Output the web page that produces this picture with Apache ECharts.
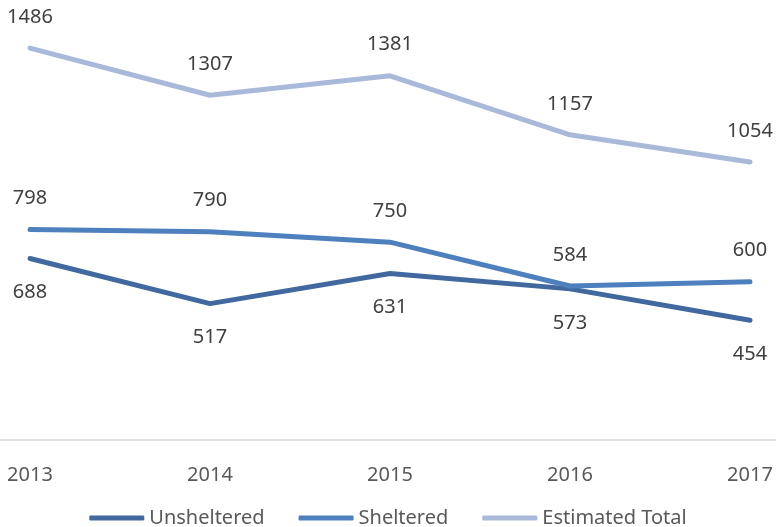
<!DOCTYPE html>
<html lang="en">
<head>
    <meta charset="UTF-8">
    <title>Homeless count 2013-2017</title>
    <script src="https://cdn.jsdelivr.net/npm/echarts@6/dist/echarts.min.js"></script>
    <style>
        body { margin: 0; background: #fff; }
        #chart { width: 776px; height: 527px; }
    </style>
</head>
<body>
    <div id="chart"></div>
    <script>
        // data
        var years = ['2013', '2014', '2015', '2016', '2017'];
        var unsheltered = [688, 517, 631, 573, 454];
        var sheltered = [798, 790, 750, 584, 600];
        var estimatedTotal = [1486, 1307, 1381, 1157, 1054];

        var font = '"Noto Sans", "Liberation Sans", sans-serif';

        function lineSeries(name, data, color, labelPos, dist) {
            return {
                name: name,
                type: 'line',
                data: data,
                symbol: 'circle',
                symbolSize: 0,
                showSymbol: true,
                itemStyle: { color: color },
                lineStyle: { color: color, width: 5, cap: 'round', join: 'round' },
                label: {
                    show: true,
                    position: labelPos,
                    distance: dist,
                    color: '#404040',
                    fontSize: 20,
                    fontFamily: font
                },
                emphasis: { disabled: true }
            };
        }

        var myChart = echarts.init(document.getElementById('chart'));
        var option = {
            animation: false,
            grid: [
                { left: 30, right: 26, top: 18, bottom: 87 },
                // full-width grid only for the base line
                { left: 0, right: 0, top: 18, bottom: 87 }
            ],
            xAxis: [{
                type: 'category',
                data: years,
                boundaryGap: false,
                axisLine: { show: false },
                axisTick: { show: false },
                axisLabel: { color: '#595959', fontSize: 20, fontFamily: font, margin: 25 }
            }, {
                type: 'category',
                gridIndex: 1,
                data: years,
                axisLine: { lineStyle: { color: '#d9d9d9', width: 1.5 } },
                axisTick: { show: false },
                axisLabel: { show: false }
            }],
            yAxis: [{
                type: 'value',
                min: 0,
                max: 1600,
                show: false
            }, {
                type: 'value',
                gridIndex: 1,
                min: 0,
                max: 1600,
                show: false
            }],
            legend: {
                top: 503,
                left: 'center',
                icon: 'roundRect',
                itemWidth: 55,
                itemHeight: 5,
                itemGap: 34,
                textStyle: { color: '#595959', fontSize: 20, fontFamily: font },
                data: ['Unsheltered', 'Sheltered', 'Estimated Total']
            },
            series: [
                lineSeries('Unsheltered', unsheltered, '#41699f', 'bottom', 24),
                lineSeries('Sheltered', sheltered, '#4e80bd', 'top', 21),
                lineSeries('Estimated Total', estimatedTotal, '#a9b9d9', 'top', 21)
            ]
        };
        myChart.setOption(option);
    </script>
</body>
</html>
